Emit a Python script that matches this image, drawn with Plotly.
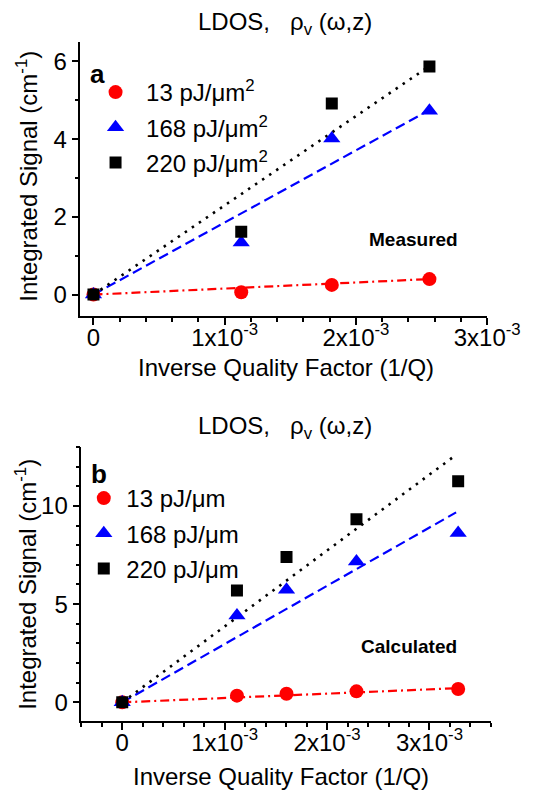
import plotly.graph_objects as go

# ---------------- data ----------------
fluence_a = ["13 pJ/μm<sup>2</sup>", "168 pJ/μm<sup>2</sup>", "220 pJ/μm<sup>2</sup>"]
fluence_b = ["13 pJ/μm", "168 pJ/μm", "220 pJ/μm"]

invq_a = [0.0, 1.126e-3, 1.816e-3, 2.56e-3]
meas_13 = [0.0, 0.06, 0.25, 0.40]
meas_168 = [0.0, 1.34, 4.02, 4.73]
meas_220 = [0.0, 1.62, 4.92, 5.87]

fit_x_a = [0.0, 2.56e-3]
fit_a_13 = [0.0, 0.40]
fit_a_168 = [0.0, 4.75]
fit_a_220 = [0.0, 5.88]

invq_b = [0.0, 1.12e-3, 1.604e-3, 2.287e-3, 3.28e-3]
calc_13 = [0.0, 0.34, 0.44, 0.56, 0.68]
calc_168 = [0.0, 4.42, 5.73, 7.17, 8.62]
calc_220 = [0.0, 5.70, 7.40, 9.32, 11.25]

fit_x_b = [0.0, 3.26e-3]
fit_b_13 = [0.0, 0.72]
fit_b_168 = [0.0, 9.67]
fit_b_220 = [0.0, 12.6]

xtick_vals = [0.0, 1e-3, 2e-3, 3e-3]
xtick_text = ["0", "1x10<sup>-3</sup>", "2x10<sup>-3</sup>", "3x10<sup>-3</sup>"]
ytick_a = [0, 2, 4, 6]
ytick_b = [0, 5, 10]

# ---------------- style ----------------
FONT = "Liberation Sans, Arial, sans-serif"
W, H = 546, 790
RED, BLUE, BLACK = "#ff0000", "#0000ff", "#000000"

fig = go.Figure()

def add_panel(xa, ya, xf, fits, xs, ys, names, legend):
    styles = [("9px,4px,2px,4px", RED, 2.2), ("10px,5px", BLUE, 2.2), ("2.5px,6px", BLACK, 2.6)]
    for f, (dash, col, lw) in zip(fits, styles):
        fig.add_trace(go.Scatter(x=xf, y=f, mode="lines", xaxis=xa, yaxis=ya,
                                 line=dict(color=col, width=lw, dash=dash),
                                 showlegend=False, hoverinfo="skip"))
    syms = [("circle", RED, 14), ("triangle-up", BLUE, 15), ("square", BLACK, 12)]
    for i, (y, n, (s, col, sz)) in enumerate(zip(ys, names, syms)):
        fig.add_trace(go.Scatter(x=xs, y=y, mode="markers", name=n, xaxis=xa, yaxis=ya,
                                 marker=dict(symbol=s, color=col, size=sz, line=dict(width=0)),
                                 legend=legend, legendgroup=legend + str(i)))

add_panel("x", "y", fit_x_a, [fit_a_13, fit_a_168, fit_a_220], invq_a,
          [meas_13, meas_168, meas_220], fluence_a, "legend")
add_panel("x2", "y2", fit_x_b, [fit_b_13, fit_b_168, fit_b_220], invq_b,
          [calc_13, calc_168, calc_220], fluence_b, "legend2")

tickfont = dict(family=FONT, size=24, color="black")
common = dict(showgrid=False, zeroline=False, showline=True, linecolor="black",
              linewidth=1.5, tickcolor="black", tickwidth=1.5, tickfont=tickfont)

def xax(domain, rng, anchor, inside=False, overlay=None):
    d = dict(common, domain=domain, range=rng, anchor=anchor,
             tickmode="array", tickvals=xtick_vals, ticktext=xtick_text,
             ticks="inside" if inside else "outside", ticklen=7,
             ticklabelstandoff=-8,
             minor=dict(dtick=0.2e-3, tick0=0, ticks="inside" if inside else "outside",
                        ticklen=4, tickcolor="black", tickwidth=1.5))
    if overlay:
        d.update(overlaying=overlay, side="top", showticklabels=False)
        d.pop("domain")
    return d

def yax(domain, rng, anchor, vals, inside=False, overlay=None):
    d = dict(common, domain=domain, range=rng, anchor=anchor,
             tickmode="array", tickvals=vals,
             ticks="inside" if inside else "outside", ticklen=7,
             minor=dict(dtick=1, tick0=0, ticks="inside" if inside else "outside",
                        ticklen=4, tickcolor="black", tickwidth=1.5))
    if overlay:
        d.update(overlaying=overlay, side="right", showticklabels=False)
        d.pop("domain")
    return d

xa_dom = [77 / W, 510 / W]
xb_dom = [78 / W, 514 / W]
ya_dom = [1 - 308 / H, 1 - 34 / H]
yb_dom = [1 - 713 / H, 1 - 439 / H]
xa_rng = [-0.1e-3, 3.0e-3]
xb_rng = [-0.4e-3, 3.6e-3]
ya_rng = [-0.55, 6.5]
yb_rng = [-0.95, 13.0]

fig.update_layout(
    xaxis=xax(xa_dom, xa_rng, "y"),
    yaxis=yax(ya_dom, ya_rng, "x", ytick_a),
    xaxis2=xax(xb_dom, xb_rng, "y2"),
    yaxis2=yax(yb_dom, yb_rng, "x2", ytick_b),
    xaxis3=xax(xa_dom, xa_rng, "y", inside=True, overlay="x"),
    yaxis3=yax(ya_dom, ya_rng, "x", ytick_a, inside=True, overlay="y"),
    xaxis4=xax(xb_dom, xb_rng, "y2", inside=True, overlay="x2"),
    yaxis4=yax(yb_dom, yb_rng, "x2", ytick_b, inside=True, overlay="y2"),
)

legfont = dict(family=FONT, size=24, color="black")
fig.update_layout(
    legend=dict(x=82 / W, y=1 - 62 / H, xanchor="left", yanchor="top",
                font=legfont, bgcolor="rgba(0,0,0,0)", tracegroupgap=1, itemwidth=51),
    legend2=dict(x=78 / W, y=1 - 468 / H, xanchor="left", yanchor="top",
                 font=legfont, bgcolor="rgba(0,0,0,0)", tracegroupgap=1, itemwidth=35),
)

ann = []
def txt(x, y, t, size, bold=False, angle=0, xanchor="center"):
    ann.append(dict(x=x / W, y=1 - y / H, xref="paper", yref="paper", text=("<b>%s</b>" % t) if bold else t,
                    showarrow=False, xanchor=xanchor, yanchor="middle", textangle=angle,
                    font=dict(family=FONT, size=size, color="black")))

title = "LDOS,&nbsp;&nbsp;&nbsp;ρ<sub>v</sub> (ω,z)"
txt(295, 16, title, 24)
txt(295, 419, title, 24)
txt(85, 66, "a", 26, bold=True, xanchor="left")
txt(86, 466, "b", 26, bold=True, xanchor="left")
txt(432, 231, "Measured", 19, bold=True)
txt(427, 638, "Calculated", 19, bold=True)
txt(296, 359, "Inverse Quality Factor (1/Q)", 24)
txt(291, 768, "Inverse Quality Factor (1/Q)", 24)
txt(20, 168, "Integrated Signal (cm<sup>-1</sup>)", 24, angle=-90)
txt(19, 576, "Integrated Signal (cm<sup>-1</sup>)", 24, angle=-90)

fig.update_layout(annotations=ann, width=W, height=H,
                  margin=dict(l=0, r=0, t=0, b=0),
                  paper_bgcolor="white", plot_bgcolor="white",
                  showlegend=True)

fig.write_html("out.html")
